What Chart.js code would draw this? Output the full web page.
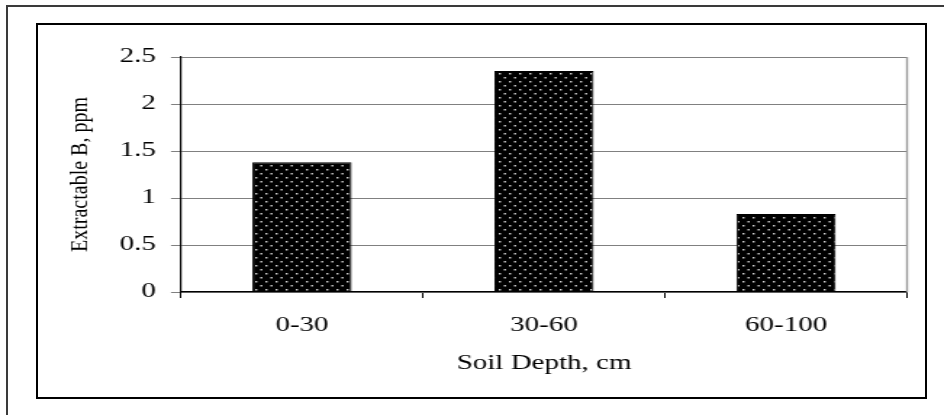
<!DOCTYPE html>
<html>
<head>
<meta charset="utf-8">
<script src="https://cdn.jsdelivr.net/npm/chart.js@4.4.1/dist/chart.umd.min.js"></script>
<style>
  html, body { margin: 0; padding: 0; background: #fff; overflow: hidden; width: 944px; height: 415px; }
  .outer { position: absolute; left: 6px; top: 5px; width: 1000px; height: 1000px; border: 2px solid #3a3a3a; }
  .inner { position: absolute; left: 36px; top: 23px; width: 891px; height: 376px; border: 2px solid #000; box-sizing: border-box; }
  #chart { position: absolute; left: 0; top: 0; transform-origin: 0 0; }
</style>
</head>
<body>
<div class="outer"></div>
<div class="inner"></div>
<canvas id="chart"></canvas>
<script>
// data
const depthLabels = ['0-30', '30-60', '60-100'];
const boronValues = [1.38, 2.35, 0.83];
const yTickValues = [0, 0.5, 1, 1.5, 2, 2.5];
const xAxisTitle = 'Soil Depth, cm';
const yAxisTitle = 'Extractable B, ppm';

// the original picture is stretched sideways, so the canvas is drawn narrow and widened
const STRETCH = 1.45;
const W = Math.round(944 / STRETCH);
const H = 415;
const px = v => v / STRETCH;   // screen x -> canvas x

const canvas = document.getElementById('chart');
canvas.width = W;
canvas.height = H;
canvas.style.transform = `scaleX(${944 / W})`;

Chart.defaults.font.family = "'Liberation Serif', 'Times New Roman', serif";
Chart.defaults.color = '#000';

// black fill with small light dots
function dotPattern() {
  const tile = document.createElement('canvas');
  tile.width = 7;
  tile.height = 8;
  const t = tile.getContext('2d');
  t.fillStyle = '#000';
  t.fillRect(0, 0, 7, 8);
  t.fillStyle = '#d8d8d8';
  t.fillRect(1, 1, 1.4, 1.5);
  t.fillRect(4.5, 5, 1.4, 1.5);
  return canvas.getContext('2d').createPattern(tile, 'repeat');
}

const yTitleX = px(80);

const plotFrame = {
  id: 'plotFrame',
  afterDraw(chart) {
    const { ctx, chartArea } = chart;
    ctx.save();
    ctx.strokeStyle = '#9a9a9a';
    ctx.lineWidth = 1.4;
    ctx.beginPath();
    ctx.moveTo(chartArea.right, chartArea.top);
    ctx.lineTo(chartArea.right, chartArea.bottom);
    ctx.stroke();
    ctx.restore();
  }
};

const chart = new Chart(canvas, {
  type: 'bar',
  data: {
    labels: depthLabels,
    datasets: [{
      data: boronValues,
      backgroundColor: dotPattern(),
      borderColor: '#000',
      borderWidth: 1,
      categoryPercentage: 1,
      barPercentage: 0.41
    }]
  },
  options: {
    responsive: false,
    animation: false,
    devicePixelRatio: 1,
    layout: { padding: { left: 0, top: 57, right: W - px(907), bottom: 0 } },
    plugins: {
      legend: { display: false },
      tooltip: { enabled: false }
    },
    scales: {
      x: {
        afterFit: s => { s.height = H - 292; },
        grid: { display: true, drawOnChartArea: false, drawTicks: true, tickLength: 6, color: '#000', lineWidth: 1, offset: true },
        border: { color: '#000', width: 1.2 },
        ticks: { font: { size: 20 }, padding: 16 },
        title: { display: true, text: xAxisTitle, font: { size: 20 }, padding: { top: 0, bottom: 39 } }
      },
      y: {
        min: 0,
        max: 2.5,
        afterFit: s => { s.width = px(181); },
        afterBuildTicks: s => { s.ticks = yTickValues.map(v => ({ value: v })); },
        grid: { color: '#808080', lineWidth: 1, drawTicks: true, tickLength: px(10) },
        border: { color: '#000', width: 1.2 },
        ticks: { font: { size: 20 }, padding: px(15), callback: v => String(v) },
        title: { display: true, text: yAxisTitle, font: { size: 20 }, padding: { top: yTitleX - 12, bottom: 0 } }
      }
    }
  },
  plugins: [plotFrame]
});

// the rotated axis title is only a little widened in the original
const yScale = chart.scales.y;
const drawTitle = yScale.drawTitle;
yScale.drawTitle = function () {
  const c = this.ctx;
  c.save();
  c.translate(yTitleX, 0);
  c.scale(1.2 / STRETCH, 1);
  c.translate(-yTitleX, 0);
  drawTitle.call(this);
  c.restore();
};
chart.draw();
</script>
</body>
</html>
